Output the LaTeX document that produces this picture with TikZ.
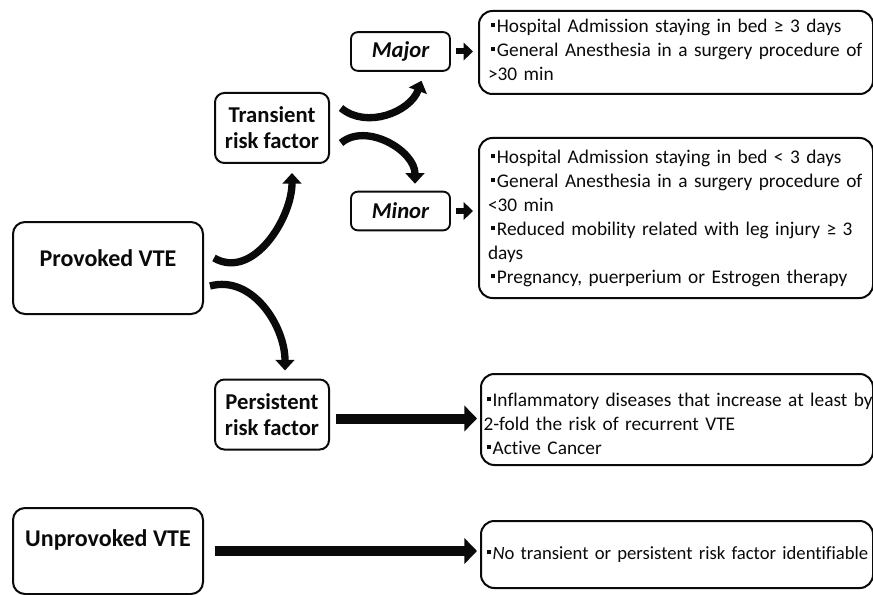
\documentclass[tikz,border=0pt]{standalone}
\usepackage{fontspec}
\setmainfont{Carlito}[Ligatures=NoCommon]
\usepackage{tikz}
\usetikzlibrary{arrows.meta,positioning}
\definecolor{ink}{HTML}{0A0A0A}
\newcommand\sqb{\hspace*{2.5pt}\raisebox{3.75pt}{\rule{3pt}{3pt}}\hspace{1.2pt}}
\newcommand\fl[1]{\makebox[\linewidth][s]{#1}}

\begin{document}
\begin{tikzpicture}[x=0.75pt,y=0.75pt,color=ink,
  mainbox/.style={draw,line width=1.5pt,rounded corners=9pt,anchor=north west,inner sep=0pt,
    minimum width=142.5pt,font=\fontsize{18}{21}\selectfont\bfseries},
  riskbox/.style={draw,line width=1.5pt,rounded corners=7pt,inner sep=0pt,align=center,
    minimum width=85.5pt,minimum height=52.5pt,font=\fontsize{17}{19.5}\selectfont\bfseries},
  levelbox/.style={draw,line width=1.4pt,rounded corners=5pt,inner sep=0pt,
    minimum width=74.25pt,minimum height=29pt,font=\fontsize{17}{19}\selectfont\bfseries\itshape},
  detail/.style={draw,line width=1.5pt,rounded corners=10pt,anchor=north west,align=left,
    inner ysep=0pt,font=\fontsize{14.5}{18}\selectfont},
  curvearrow/.style={line width=5.5pt,-{Triangle[length=8pt,width=14pt]}},
  bigarrow/.style={line width=7.5pt,-{Triangle[length=9.5pt,width=19pt]}},
  smallarrow/.style={line width=4.5pt,-{Triangle[length=7pt,width=13pt]}}]
  \useasboundingbox (0,0) rectangle (873,-595);
  \fill[white] (0,0) rectangle (873,-595);

  \node[mainbox,text height=33pt,text depth=36pt] (prov) at (12,-221) {Provoked VTE};
  \node[mainbox,text height=28.5pt,text depth=36pt] (unprov) at (12,-507) {Unprovoked VTE};

  \node[riskbox] (trans) at (272,-128) {Transient\\risk factor};
  \node[riskbox] (pers) at (272,-414.5) {Persistent\\risk factor};

  \node[levelbox] (major) at (400.5,-51.5) {Major};
  \node[levelbox] (minor) at (400.5,-211) {Minor};

  \node[detail,inner xsep=6.75pt,text width=282pt,minimum width=295.5pt,minimum height=62.25pt]
    (box1) at (478,-10) {%
    \sqb Hospital Admission staying in bed ≥ 3 days\\
    \fl{\sqb General Anesthesia in a surgery procedure of}\\
    >30 min\vspace{4pt}};
  \node[detail,inner xsep=6.75pt,text width=282pt,minimum width=295.5pt,minimum height=120pt]
    (box2) at (478,-137) {%
    \sqb Hospital Admission staying in bed < 3 days\\
    \fl{\sqb General Anesthesia in a surgery procedure of}\\
    <30 min\\
    \fl{\sqb Reduced mobility related with leg injury ≥ 3}\\
    days\\
    \sqb Pregnancy, puerperium or Estrogen therapy};
  \node[detail,inner xsep=2pt,text width=290pt,minimum width=294pt,minimum height=68.25pt]
    (box3) at (480,-373) {%
    \rule{0pt}{16.5pt}\fl{\sqb Inflammatory diseases that increase at least by}\\
    2-fold the risk of recurrent VTE\\
    \sqb Active Cancer};
  \node[detail,inner xsep=2pt,text width=290pt,minimum width=294pt,minimum height=50.25pt,
    font=\fontsize{14}{18}\selectfont]
    (box4) at (480,-520) {%
    \makebox[\linewidth][l]{\sqb{\itshape N}o transient or persistent risk factor identifiable}};

  \draw[curvearrow] ([shift={(10,10)}]prov.east) to[out=-30,in=-90] ([shift={(20,-9)}]trans.south);
  \draw[curvearrow] ([shift={(6,-18)}]prov.east) to[out=15,in=90] ([shift={(13,8)}]pers.north);
  \draw[curvearrow] ([shift={(11,20)}]trans.east) to[out=-40,in=-110] ([shift={(21,-9)}]major.south);
  \draw[curvearrow] ([shift={(11,-15)}]trans.east) to[out=40,in=90] ([shift={(14.5,7)}]minor.north);

  \draw[smallarrow,shorten <=3.75pt,shorten >=3.75pt] (major.east) -- (major.east -| box1.west);
  \draw[smallarrow,shorten <=3.75pt,shorten >=3.75pt] (minor.east) -- (minor.east -| box2.west);
  \draw[bigarrow,shorten <=4.5pt,shorten >=2.25pt] ([yshift=-3pt]pers.east) -- ([yshift=-3pt]pers.east -| box3.west);
  \draw[bigarrow,shorten <=8pt,shorten >=2.25pt] (unprov.east) -- (unprov.east -| box4.west);
\end{tikzpicture}
\end{document}
